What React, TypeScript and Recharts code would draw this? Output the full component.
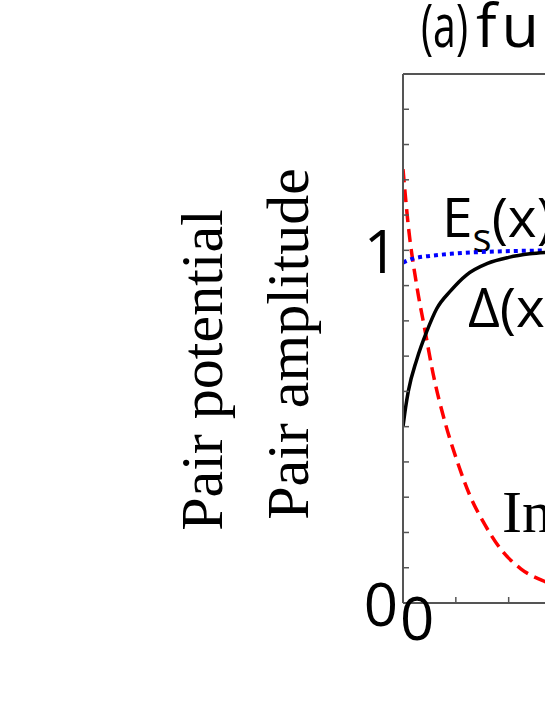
import { LineChart, Line, XAxis, YAxis, Customized } from "recharts";

// Pair amplitude Δ(x)
const deltaX = [0, 0.05, 0.1, 0.26, 0.45, 0.64, 0.9, 1.2, 1.6, 2.0, 2.4, 2.8, 3.2];
const deltaY = [0.5, 0.555, 0.6, 0.69, 0.77, 0.835, 0.885, 0.93, 0.963, 0.98, 0.99, 0.995, 0.998];

// E_s(x)
const esX = [0, 0.1, 0.26, 0.5, 0.9, 1.3, 1.8, 2.4, 3.2];
const esY = [0.965, 0.972, 0.979, 0.984, 0.99, 0.994, 0.997, 0.999, 1.0];

// induced pair potential
const indX = [0, 0.1, 0.26, 0.42, 0.57, 0.8, 1.03, 1.28, 1.52, 1.85, 2.23, 2.7, 3.2];
const indY = [1.23, 1.07, 0.9, 0.77, 0.65, 0.51, 0.4, 0.3, 0.23, 0.153, 0.097, 0.06, 0.035];

const xTicks = [0, 1, 2, 3, 4, 5, 6];
const yTicks = [0, 0.1, 0.2, 0.3, 0.4, 0.5, 0.6, 0.7, 0.8, 0.9, 1, 1.1, 1.2, 1.3, 1.4, 1.5];
const yLabels = [0, 1];
const xLabels = [0];

const toRows = (xs: number[], ys: number[]) => xs.map((x, i) => ({ x, y: ys[i] }));

const SANS = "'Open Sans', sans-serif";
const SERIF = "'Liberation Serif', 'Times New Roman', serif";
const AXIS = "#555";
const W = 500;

function YTick({ x, y, payload }: any) {
  if (!yLabels.includes(payload.value)) return null;
  return (
    <text x={x} y={y + 23} textAnchor="end" fontFamily={SANS} fontWeight={W} fontSize={60} fill="#000">
      {payload.value}
    </text>
  );
}

function XTick({ x, y, payload }: any) {
  if (!xLabels.includes(payload.value)) return null;
  return (
    <text x={x - 3} y={y + 43} textAnchor="start" fontFamily={SANS} fontWeight={W} fontSize={60} fill="#000">
      {payload.value}
    </text>
  );
}

function Annotations() {
  return (
    <g>
      <text x={421} y={47} fontFamily={SANS} fontWeight={W} fontSize={61} fill="#000" textLength={47} lengthAdjust="spacingAndGlyphs">
        (a)
      </text>
      <text x={476} y={47} fontFamily={SANS} fontWeight={W} fontSize={61} letterSpacing={5} fill="#000">fu</text>
      <text transform="translate(222,370) rotate(-90)" textAnchor="middle" fontFamily={SERIF} fontSize={60} fill="#000">
        Pair potential
      </text>
      <text transform="translate(308,344) rotate(-90)" textAnchor="middle" fontFamily={SERIF} fontSize={60} fill="#000">
        Pair amplitude
      </text>
      <text x={442} y={237} fontFamily={SANS} fontWeight={W} fontSize={55} fill="#000">
        E
        <tspan dy={15} fontSize={40}>s</tspan>
        <tspan dy={-15}>(x)</tspan>
      </text>
      <text x={468} y={327} fontFamily={SANS} fontWeight={W} fontSize={55} fill="#000">Δ(x)</text>
      <text x={502} y={532} fontFamily={SERIF} fontSize={60} fill="#000">In</text>
    </g>
  );
}

export default function App() {
  return (
    <div style={{ position: "absolute", left: 0, top: 0, width: 545, height: 705, overflow: "hidden", background: "#fff" }}>
      <LineChart width={760} height={705} margin={{ top: 73, right: 40, bottom: 101, left: 402 }}>
        <XAxis
          dataKey="x"
          type="number"
          domain={[0, 6]}
          ticks={xTicks}
          height={1}
          tickSize={-6}
          tickMargin={0}
          tick={<XTick />}
          interval={0}
          axisLine={{ stroke: AXIS, strokeWidth: 2 }}
          tickLine={{ stroke: AXIS, strokeWidth: 1.5 }}
          allowDataOverflow
        />
        <XAxis
          xAxisId="top"
          orientation="top"
          dataKey="x"
          type="number"
          domain={[0, 6]}
          ticks={xTicks}
          height={1}
          tickSize={-6}
          tick={false}
          interval={0}
          axisLine={{ stroke: AXIS, strokeWidth: 2 }}
          tickLine={{ stroke: AXIS, strokeWidth: 1.5 }}
        />
        <YAxis
          type="number"
          domain={[0, 1.5]}
          ticks={yTicks}
          width={1}
          tickSize={-6}
          tickMargin={11}
          tick={<YTick />}
          interval={0}
          axisLine={{ stroke: AXIS, strokeWidth: 2 }}
          tickLine={{ stroke: AXIS, strokeWidth: 1.5 }}
          allowDataOverflow
        />
        <Line
          data={toRows(indX, indY)}
          dataKey="y"
          type="monotone"
          stroke="#ff0000"
          strokeWidth={3.5}
          strokeDasharray="13 7"
          dot={false}
          isAnimationActive={false}
        />
        <Line
          data={toRows(esX, esY)}
          dataKey="y"
          type="monotone"
          stroke="#0000ff"
          strokeWidth={4}
          strokeDasharray="4 4"
          dot={false}
          isAnimationActive={false}
        />
        <Line
          data={toRows(deltaX, deltaY)}
          dataKey="y"
          type="monotone"
          stroke="#000"
          strokeWidth={3.5}
          dot={false}
          isAnimationActive={false}
        />
        <Customized component={<Annotations />} />
      </LineChart>
    </div>
  );
}
